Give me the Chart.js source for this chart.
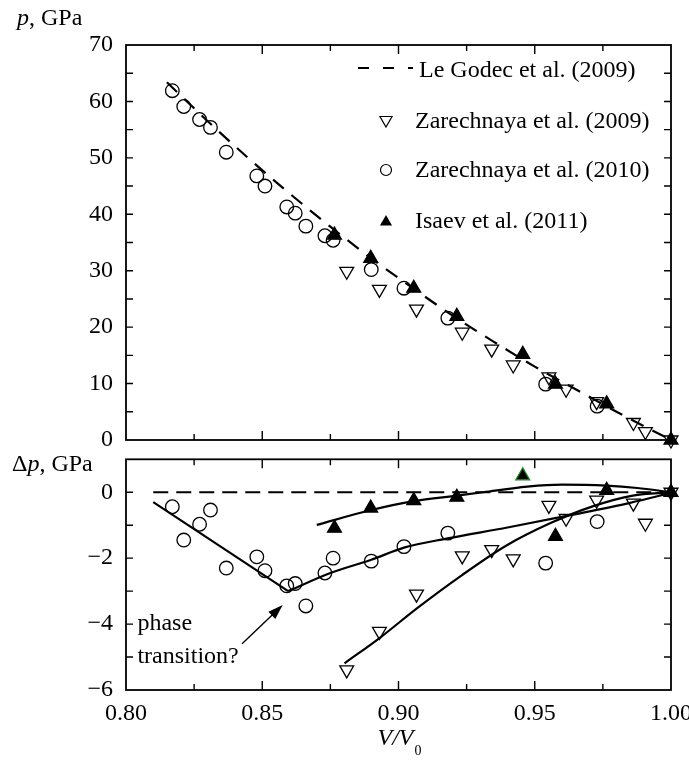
<!DOCTYPE html>
<html>
<head>
<meta charset="utf-8">
<title>p(V/V0)</title>
<script src="https://cdn.jsdelivr.net/npm/chart.js@4.4.1/dist/chart.umd.min.js"></script>
<style>
  html, body { margin: 0; background: #fff; overflow: hidden; }
  #wrap { position: relative; width: 689px; height: 760px; }
  #top-chart { position: absolute; left: 0; top: 0; }
  #bottom-chart { position: absolute; left: 0; top: 450px; }
</style>
</head>
<body>
<div id="wrap">
  <canvas id="top-chart" width="689" height="450"></canvas>
  <canvas id="bottom-chart" width="689" height="310"></canvas>
</div>
<script>
// ---- values ----
// Le Godec et al. (2009), dashed curve
var godecV = [0.815, 0.830, 0.845, 0.860, 0.875, 0.890, 0.905, 0.920, 0.935, 0.950, 0.965, 0.980, 1.000];
var godecP = [63.4, 56.5, 49.9, 43.7, 37.8, 32.2, 27.0, 22.0, 17.4, 13.0, 9.0, 5.0, 0];

// Zarechnaya et al. (2009), open down triangles
var zar09V  = [0.8810, 0.8930, 0.9066, 0.9234, 0.9342, 0.9421, 0.9552, 0.9615, 0.9727, 0.9862, 0.9906, 1.0];
var zar09P  = [29.9, 26.7, 23.2, 19.1, 16.1, 13.3, 11.2, 9.0, 6.8, 3.1, 1.5, 0];
var zar09dP = [-5.39, -4.22, -3.09, -1.93, -1.74, -2.02, -0.40, -0.79, -0.24, -0.33, -0.94, 0];

// Zarechnaya et al. (2010), open circles
var zar10V  = [0.8170, 0.8212, 0.8270, 0.8310, 0.8368, 0.8480, 0.8510, 0.8590, 0.8621, 0.8660, 0.8730, 0.8760, 0.8900, 0.9020, 0.9181, 0.9540, 0.9729];
var zar10P  = [61.9, 59.1, 56.8, 55.4, 51.0, 46.8, 45.0, 41.3, 40.2, 37.9, 36.2, 35.4, 30.2, 26.9, 21.6, 9.9, 6.0];
var zar10dP = [-0.44, -1.45, -0.97, -0.54, -2.30, -1.96, -2.38, -2.84, -2.77, -3.45, -2.45, -2.00, -2.09, -1.65, -1.24, -2.15, -0.89];

// Isaev et al. (2011), filled triangles
var isaevV  = [0.8765, 0.8898, 0.9056, 0.9214, 0.9456, 0.9576, 0.9764, 1.0];
var isaevP  = [36.3, 32.2, 26.9, 21.9, 15.2, 9.9, 6.4, 0];
var isaevdP = [-1.09, -0.48, -0.25, -0.15, 0.50, -1.34, 0.06, 0];

// solid trend lines in the lower panel
var fitLowV   = [0.810, 0.8595];
var fitLowdP  = [-0.30, -3.00];
var fit10V    = [0.8595, 0.875, 0.890, 0.902, 0.918, 0.940, 0.964, 0.985, 1.000];
var fit10dP   = [-3.00, -2.45, -2.05, -1.68, -1.40, -1.07, -0.68, -0.32, -0.02];
var fitIsaevV = [0.870, 0.890, 0.9055, 0.9216, 0.931, 0.9473, 0.960, 0.9763, 0.9876, 1.000];
var fitIsaevdP = [-0.99, -0.54, -0.27, -0.10, 0.0, 0.17, 0.23, 0.20, 0.13, 0];
var fit09V    = [0.8802, 0.8934, 0.9071, 0.9232, 0.9393, 0.9554, 0.9715, 0.986, 1.000];
var fit09dP   = [-5.19, -4.40, -3.50, -2.52, -1.63, -0.95, -0.42, -0.10, 0];
var zeroV  = [0.810, 1.000];
var zerodP = [0, 0];

// axis ticks
var vTicks  = [0.80, 0.85, 0.90, 0.95, 1.00];
var vMarks  = [0.825, 0.85, 0.875, 0.90, 0.925, 0.95, 0.975];
var pTicks  = [0, 10, 20, 30, 40, 50, 60, 70];
var pMarks  = [5, 10, 15, 20, 25, 30, 35, 40, 45, 50, 55, 60, 65];
var dpTicks = [-6, -4, -2, 0];
var dpMarks = [-5, -4, -3, -2, -1, 0];

function pts(xs, ys) {
  return xs.map(function (x, i) { return { x: x, y: ys[i] }; });
}

var SERIF = '"Liberation Serif", "DejaVu Serif", serif';
var FS = 24;

function tickSetter(list) {
  return function (scale) {
    scale.ticks = list.map(function (v) { return { value: v }; });
  };
}

function lineSet(xs, ys, dash) {
  return {
    data: pts(xs, ys), showLine: true, pointRadius: 0, borderColor: '#000',
    borderWidth: 2.2, borderDash: dash || [], cubicInterpolationMode: 'monotone', clip: false
  };
}
function openTri(xs, ys) {
  return {
    data: pts(xs, ys), pointStyle: 'triangle', rotation: 180, pointRadius: 8,
    pointBorderColor: '#000', pointBackgroundColor: 'rgba(0,0,0,0)', pointBorderWidth: 1.3, clip: false
  };
}
function openCirc(xs, ys) {
  return {
    data: pts(xs, ys), pointStyle: 'circle', pointRadius: 6.8,
    pointBorderColor: '#000', pointBackgroundColor: 'rgba(0,0,0,0)', pointBorderWidth: 1.3, clip: false
  };
}
function fillTri(xs, ys, border) {
  return {
    data: pts(xs, ys), pointStyle: 'triangle', pointRadius: 8,
    pointBorderColor: border || '#000', pointBackgroundColor: '#000', pointBorderWidth: 1.3, clip: false
  };
}

// frame with inward tick marks on all four sides
var framePlugin = {
  id: 'frame',
  beforeDatasetsDraw: function (chart, args, opts) {
    var ctx = chart.ctx, a = chart.chartArea;
    var xs = chart.scales.x, ys = chart.scales.y;
    ctx.save();
    ctx.strokeStyle = '#000';
    ctx.lineWidth = 1.8;
    ctx.strokeRect(a.left, a.top, a.right - a.left, a.bottom - a.top);
    ctx.lineWidth = 1.4;
    ctx.beginPath();
    opts.xMarks.forEach(function (v) {
      var x = xs.getPixelForValue(v);
      var len = Math.abs(v * 20 - Math.round(v * 20)) < 1e-6 ? 9 : 6;
      ctx.moveTo(x, a.bottom); ctx.lineTo(x, a.bottom - len);
      ctx.moveTo(x, a.top); ctx.lineTo(x, a.top + len);
    });
    opts.yMarks.forEach(function (v) {
      var y = ys.getPixelForValue(v);
      ctx.moveTo(a.left, y); ctx.lineTo(a.left + 7, y);
      ctx.moveTo(a.right, y); ctx.lineTo(a.right - 7, y);
    });
    ctx.stroke();
    ctx.restore();
  }
};

function drawTri(ctx, x, y, r, down, filled) {
  var s = down ? -1 : 1;
  ctx.beginPath();
  ctx.moveTo(x, y - s * r);
  ctx.lineTo(x + r * 0.866, y + s * r / 2);
  ctx.lineTo(x - r * 0.866, y + s * r / 2);
  ctx.closePath();
  if (filled) { ctx.fill(); } else { ctx.stroke(); }
}

var topLabels = {
  id: 'topLabels',
  afterDraw: function (chart) {
    var ctx = chart.ctx;
    ctx.save();
    ctx.fillStyle = '#000';
    ctx.strokeStyle = '#000';
    ctx.textBaseline = 'middle';
    ctx.font = 'italic ' + FS + 'px ' + SERIF;
    ctx.fillText('p', 17, 19);
    var w = ctx.measureText('p').width;
    ctx.font = FS + 'px ' + SERIF;
    ctx.fillText(', GPa', 17 + w, 19);

    // legend
    var sx = 386, tx = 415;
    ctx.lineWidth = 2.2;
    ctx.setLineDash([11, 14]);
    ctx.beginPath(); ctx.moveTo(358, 68); ctx.lineTo(413, 68); ctx.stroke();
    ctx.setLineDash([]);
    ctx.fillText('Le Godec et al. (2009)', 419, 71);
    ctx.lineWidth = 1.2;
    drawTri(ctx, sx, 120, 7, true, false);
    ctx.fillText('Zarechnaya et al. (2009)', tx, 122);
    ctx.beginPath(); ctx.arc(sx, 170, 5.5, 0, Math.PI * 2); ctx.stroke();
    ctx.fillText('Zarechnaya et al. (2010)', tx, 171);
    drawTri(ctx, sx, 222, 7, false, true);
    ctx.fillText('Isaev et al. (2011)', tx, 222);
    ctx.restore();
  }
};

var bottomLabels = {
  id: 'bottomLabels',
  afterDraw: function (chart) {
    var ctx = chart.ctx, xs = chart.scales.x, ys = chart.scales.y;
    ctx.save();
    ctx.fillStyle = '#000';
    ctx.strokeStyle = '#000';
    ctx.textBaseline = 'middle';
    ctx.font = FS + 'px ' + SERIF;
    ctx.fillText('\u0394', 12, 15);
    var x = 12 + ctx.measureText('\u0394').width;
    ctx.font = 'italic ' + FS + 'px ' + SERIF;
    ctx.fillText('p', x, 15);
    x += ctx.measureText('p').width;
    ctx.font = FS + 'px ' + SERIF;
    ctx.fillText(', GPa', x, 15);

    // annotation
    ctx.fillText('phase', xs.getPixelForValue(0.8042), ys.getPixelForValue(-4.0));
    ctx.fillText('transition?', xs.getPixelForValue(0.8042), ys.getPixelForValue(-5.0));
    var x0 = xs.getPixelForValue(0.8426), y0 = ys.getPixelForValue(-4.6);
    var x1 = xs.getPixelForValue(0.8575), y1 = ys.getPixelForValue(-3.42);
    var ang = Math.atan2(y1 - y0, x1 - x0);
    ctx.lineWidth = 1.4;
    ctx.beginPath(); ctx.moveTo(x0, y0); ctx.lineTo(x1 - 8 * Math.cos(ang), y1 - 8 * Math.sin(ang)); ctx.stroke();
    ctx.beginPath();
    ctx.moveTo(x1, y1);
    ctx.lineTo(x1 - 15 * Math.cos(ang) + 5 * Math.sin(ang), y1 - 15 * Math.sin(ang) - 5 * Math.cos(ang));
    ctx.lineTo(x1 - 15 * Math.cos(ang) - 5 * Math.sin(ang), y1 - 15 * Math.sin(ang) + 5 * Math.cos(ang));
    ctx.closePath(); ctx.fill();

    // x axis title V/V0
    ctx.font = 'italic ' + FS + 'px ' + SERIF;
    var t = 'V/V';
    var tw = ctx.measureText(t).width;
    var cx = (chart.chartArea.left + chart.chartArea.right) / 2;
    ctx.fillText(t, cx - tw / 2 - 3, 289);
    ctx.font = '14px ' + SERIF;
    ctx.fillText('0', cx + tw / 2 - 2, 301);
    ctx.restore();
  }
};

var tickFont = { family: SERIF, size: FS };

new Chart(document.getElementById('top-chart'), {
  type: 'scatter',
  data: {
    datasets: [
      lineSet(godecV, godecP, [14, 10]),
      openTri(zar09V, zar09P),
      openCirc(zar10V, zar10P),
      fillTri(isaevV, isaevP)
    ]
  },
  options: {
    responsive: false,
    animation: false,
    layout: { padding: { top: 45, right: 18, bottom: 10, left: 0 } },
    plugins: { legend: { display: false }, tooltip: { enabled: false }, frame: { xMarks: vMarks, yMarks: pMarks } },
    scales: {
      x: { type: 'linear', min: 0.8, max: 1.0, display: false },
      y: {
        type: 'linear', min: 0, max: 70,
        afterBuildTicks: tickSetter(pTicks),
        afterFit: function (s) { s.width = 126; s.paddingTop = 0; s.paddingBottom = 0; },
        grid: { display: false, drawTicks: false },
        border: { display: false },
        ticks: { color: '#000', font: tickFont, padding: 13 }
      }
    }
  },
  plugins: [framePlugin, topLabels]
});

new Chart(document.getElementById('bottom-chart'), {
  type: 'scatter',
  data: {
    datasets: [
      lineSet(zeroV, zerodP, [15, 8]),
      lineSet(fitLowV, fitLowdP),
      lineSet(fit10V, fit10dP),
      lineSet(fitIsaevV, fitIsaevdP),
      lineSet(fit09V, fit09dP),
      openTri(zar09V, zar09dP),
      openCirc(zar10V, zar10dP),
      fillTri(isaevV, isaevdP, isaevV.map(function (v, i) { return i === 4 ? '#1f8a1f' : '#000'; }))
    ]
  },
  options: {
    responsive: false,
    animation: false,
    layout: { padding: { top: 5, right: 18, bottom: 20, left: 0 } },
    plugins: { legend: { display: false }, tooltip: { enabled: false }, frame: { xMarks: vMarks, yMarks: dpMarks } },
    scales: {
      x: {
        type: 'linear', min: 0.8, max: 1.0,
        afterBuildTicks: tickSetter(vTicks),
        afterFit: function (s) { s.height = 50; s.paddingLeft = 0; s.paddingRight = 0; },
        grid: { display: false, drawTicks: false },
        border: { display: false },
        ticks: { color: '#000', font: tickFont, padding: 9, maxRotation: 0, autoSkip: false,
                 callback: function (v) { return v.toFixed(2); } }
      },
      y: {
        type: 'linear', min: -6, max: 1,
        afterBuildTicks: tickSetter(dpTicks),
        afterFit: function (s) { s.width = 126; s.paddingTop = 0; s.paddingBottom = 0; },
        grid: { display: false, drawTicks: false },
        border: { display: false },
        ticks: { color: '#000', font: tickFont, padding: 13,
                 callback: function (v) { return v < 0 ? '\u2212' + Math.abs(v) : String(v); } }
      }
    }
  },
  plugins: [framePlugin, bottomLabels]
});
</script>
</body>
</html>
